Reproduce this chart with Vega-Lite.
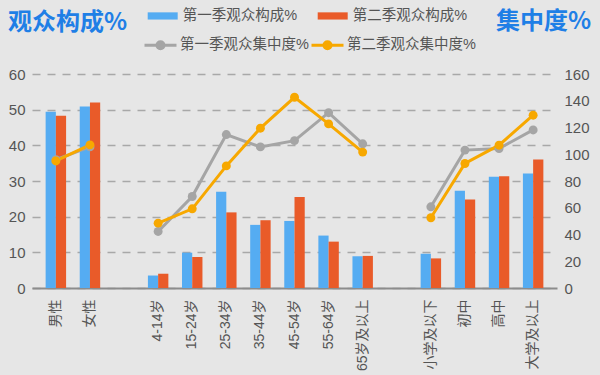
{
  "$schema": "https://vega.github.io/schema/vega-lite/v6.json",
  "width": 525,
  "height": 214,
  "autosize": "none",
  "padding": {"left": 32, "top": 74, "right": 43, "bottom": 87},
  "background": "#e6e6e6",
  "config": {
    "font": "Liberation Sans, Noto Sans CJK SC",
    "view": {"stroke": null},
    "axis": {"labelColor": "#555555", "labelFontSize": 15, "ticks": false, "domain": false, "grid": false},
    "legend": {"labelColor": "#555555", "labelFontSize": 14.5, "padding": 0, "labelOffset": 4, "title": null}
  },
  "datasets": {
    "bars": [
      {"cat": "男性", "series": "第一季观众构成%", "value": 49.4},
      {"cat": "男性", "series": "第二季观众构成%", "value": 48.3},
      {"cat": "女性", "series": "第一季观众构成%", "value": 50.9},
      {"cat": "女性", "series": "第二季观众构成%", "value": 52.0},
      {"cat": "4-14岁", "series": "第一季观众构成%", "value": 3.5},
      {"cat": "4-14岁", "series": "第二季观众构成%", "value": 4.0},
      {"cat": "15-24岁", "series": "第一季观众构成%", "value": 9.9},
      {"cat": "15-24岁", "series": "第二季观众构成%", "value": 8.7},
      {"cat": "25-34岁", "series": "第一季观众构成%", "value": 27.0},
      {"cat": "25-34岁", "series": "第二季观众构成%", "value": 21.2},
      {"cat": "35-44岁", "series": "第一季观众构成%", "value": 17.7},
      {"cat": "35-44岁", "series": "第二季观众构成%", "value": 19.0},
      {"cat": "45-54岁", "series": "第一季观众构成%", "value": 18.8},
      {"cat": "45-54岁", "series": "第二季观众构成%", "value": 25.5},
      {"cat": "55-64岁", "series": "第一季观众构成%", "value": 14.7},
      {"cat": "55-64岁", "series": "第二季观众构成%", "value": 13.0},
      {"cat": "65岁及以上", "series": "第一季观众构成%", "value": 8.9},
      {"cat": "65岁及以上", "series": "第二季观众构成%", "value": 9.0},
      {"cat": "小学及以下", "series": "第一季观众构成%", "value": 9.6},
      {"cat": "小学及以下", "series": "第二季观众构成%", "value": 8.3},
      {"cat": "初中", "series": "第一季观众构成%", "value": 27.3},
      {"cat": "初中", "series": "第二季观众构成%", "value": 24.8},
      {"cat": "高中", "series": "第一季观众构成%", "value": 31.2},
      {"cat": "高中", "series": "第二季观众构成%", "value": 31.3},
      {"cat": "大学及以上", "series": "第一季观众构成%", "value": 32.1},
      {"cat": "大学及以上", "series": "第二季观众构成%", "value": 36.0}
    ],
    "lines": [
      {"cat": "男性", "group": "性别", "series": "第一季观众集中度%", "value": 96.0},
      {"cat": "女性", "group": "性别", "series": "第一季观众集中度%", "value": 105.5},
      {"cat": "4-14岁", "group": "年龄", "series": "第一季观众集中度%", "value": 42.3},
      {"cat": "15-24岁", "group": "年龄", "series": "第一季观众集中度%", "value": 68.4},
      {"cat": "25-34岁", "group": "年龄", "series": "第一季观众集中度%", "value": 114.7},
      {"cat": "35-44岁", "group": "年龄", "series": "第一季观众集中度%", "value": 105.5},
      {"cat": "45-54岁", "group": "年龄", "series": "第一季观众集中度%", "value": 110.2},
      {"cat": "55-64岁", "group": "年龄", "series": "第一季观众集中度%", "value": 131.1},
      {"cat": "65岁及以上", "group": "年龄", "series": "第一季观众集中度%", "value": 107.8},
      {"cat": "小学及以下", "group": "学历", "series": "第一季观众集中度%", "value": 60.7},
      {"cat": "初中", "group": "学历", "series": "第一季观众集中度%", "value": 103.1},
      {"cat": "高中", "group": "学历", "series": "第一季观众集中度%", "value": 104.3},
      {"cat": "大学及以上", "group": "学历", "series": "第一季观众集中度%", "value": 118.2},
      {"cat": "男性", "group": "性别", "series": "第二季观众集中度%", "value": 95.0},
      {"cat": "女性", "group": "性别", "series": "第二季观众集中度%", "value": 107.0},
      {"cat": "4-14岁", "group": "年龄", "series": "第二季观众集中度%", "value": 48.5},
      {"cat": "15-24岁", "group": "年龄", "series": "第二季观众集中度%", "value": 59.2},
      {"cat": "25-34岁", "group": "年龄", "series": "第二季观众集中度%", "value": 91.3},
      {"cat": "35-44岁", "group": "年龄", "series": "第二季观众集中度%", "value": 119.5},
      {"cat": "45-54岁", "group": "年龄", "series": "第二季观众集中度%", "value": 142.6},
      {"cat": "55-64岁", "group": "年龄", "series": "第二季观众集中度%", "value": 122.7},
      {"cat": "65岁及以上", "group": "年龄", "series": "第二季观众集中度%", "value": 101.6},
      {"cat": "小学及以下", "group": "学历", "series": "第二季观众集中度%", "value": 52.5},
      {"cat": "初中", "group": "学历", "series": "第二季观众集中度%", "value": 93.1},
      {"cat": "高中", "group": "学历", "series": "第二季观众集中度%", "value": 106.8},
      {"cat": "大学及以上", "group": "学历", "series": "第二季观众集中度%", "value": 129.2}
    ]
  },
  "layer": [
    {
      "data": {"name": "bars"},
      "mark": {"type": "bar"},
      "encoding": {
        "x": {
          "field": "cat", "type": "nominal", "sort": null,
          "scale": {"domain": ["男性", "女性", " ", "4-14岁", "15-24岁", "25-34岁", "35-44岁", "45-54岁", "55-64岁", "65岁及以上", "  ", "小学及以下", "初中", "高中", "大学及以上"], "paddingInner": 0.4, "paddingOuter": 0.4},
          "axis": {"title": null, "labelAngle": -90, "labelFontSize": 14, "labelPadding": 11, "domain": true, "domainColor": "#8c8c8c", "domainWidth": 2, "labelLimit": 200}
        },
        "xOffset": {"field": "series", "type": "nominal", "sort": ["第一季观众构成%", "第二季观众构成%"], "scale": {"paddingInner": 0, "paddingOuter": 0}},
        "y": {
          "field": "value", "type": "quantitative",
          "scale": {"domain": [0, 60]},
          "axis": {"values": [0, 10, 20, 30, 40, 50, 60], "grid": true, "gridDash": [8, 7], "gridColor": "#a8a8a8", "gridWidth": 1.5, "labelPadding": 7,
            "title": "观众构成%", "titleAngle": 0, "titleX": 35, "titleY": -52, "titleAlign": "center", "titleBaseline": "middle", "titleFontSize": 24, "titleFontWeight": "bold", "titleColor": "#1f7fe6", "titleFont": "Noto Sans CJK SC"}
        },
        "color": {
          "field": "series", "type": "nominal",
          "scale": {"domain": ["第一季观众构成%", "第二季观众构成%"], "range": ["#55acf2", "#e95b29"]},
          "legend": {"orient": "none", "legendX": 114.7, "legendY": -74.3, "direction": "horizontal", "columnPadding": 19, "symbolType": "M-1,-0.24H1V0.24H-1Z", "symbolSize": 900, "symbolOpacity": 1}
        }
      }
    },
    {
      "data": {"name": "lines"},
      "encoding": {
        "x": {"field": "cat", "type": "nominal", "sort": null},
        "y": {
          "field": "value", "type": "quantitative",
          "scale": {"domain": [0, 160]},
          "axis": {"orient": "right", "values": [0, 20, 40, 60, 80, 100, 120, 140, 160], "labelPadding": 7,
            "title": "集中度%", "titleAngle": 0, "titleX": -14, "titleY": -53, "titleAlign": "center", "titleBaseline": "middle", "titleFontSize": 24, "titleFontWeight": "bold", "titleColor": "#1f7fe6", "titleFont": "Noto Sans CJK SC"}
        },
        "detail": {"field": "group"}
      },
      "layer": [
        {
          "mark": {"type": "line", "strokeWidth": 3},
          "encoding": {
            "stroke": {
              "field": "series", "type": "nominal",
              "scale": {"domain": ["第一季观众集中度%", "第二季观众集中度%"], "range": ["#a5a5a5", "#f7a800"]},
              "legend": {"orient": "none", "legendX": 111, "legendY": -46.7, "direction": "horizontal", "columnPadding": -4, "labelOffset": 2, "symbolType": "M-1,0H1M-0.22,0A0.22,0.22,0,1,1,0.22,0A0.22,0.22,0,1,1,-0.22,0Z", "symbolSize": 1024, "symbolStrokeWidth": 3}
            }
          }
        },
        {
          "mark": {"type": "point", "filled": true, "size": 80, "opacity": 1, "shape": "circle"},
          "encoding": {
            "fill": {
              "field": "series", "type": "nominal",
              "scale": {"domain": ["第一季观众集中度%", "第二季观众集中度%"], "range": ["#a5a5a5", "#f7a800"]},
              "legend": {"orient": "none", "legendX": 111, "legendY": -46.7, "direction": "horizontal", "columnPadding": -4, "labelOffset": 2, "symbolType": "M-1,0H1M-0.22,0A0.22,0.22,0,1,1,0.22,0A0.22,0.22,0,1,1,-0.22,0Z", "symbolSize": 1024, "symbolStrokeWidth": 3}
            }
          }
        }
      ]
    }
  ],
  "resolve": {"scale": {"y": "independent"}}
}
